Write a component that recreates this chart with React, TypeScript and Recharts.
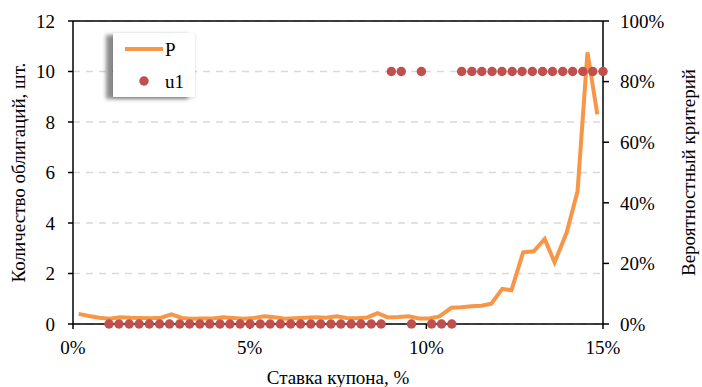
import {
  ComposedChart,
  Line,
  Scatter,
  XAxis,
  YAxis,
  CartesianGrid,
  ReferenceLine,
} from "recharts";

document.body.style.margin = "0";

const FONT = "'Liberation Serif', 'Times New Roman', 'DejaVu Serif', serif";
const ORANGE = "#F79646";
const RED = "#C0504D";

// coupon rate (%) for line P
const lineX = [
  0.16, 0.45, 0.74, 1.04, 1.33, 1.62, 1.91, 2.2, 2.49, 2.79, 3.08, 3.37, 3.66,
  3.95, 4.25, 4.54, 4.83, 5.12, 5.41, 5.71, 6.0, 6.29, 6.58, 6.87, 7.16, 7.46,
  7.75, 8.04, 8.33, 8.62, 8.91, 9.21, 9.5, 9.79, 10.08, 10.37, 10.71, 10.99,
  11.28, 11.56, 11.84, 12.15, 12.41, 12.74, 13.04, 13.35, 13.63, 13.97, 14.28,
  14.56, 14.84,
];
// number of bonds
const lineP = [
  0.4, 0.32, 0.25, 0.21, 0.27, 0.25, 0.24, 0.23, 0.25, 0.38, 0.24, 0.21, 0.22,
  0.22, 0.27, 0.24, 0.21, 0.24, 0.31, 0.27, 0.21, 0.23, 0.25, 0.27, 0.25, 0.31,
  0.24, 0.23, 0.26, 0.43, 0.26, 0.28, 0.31, 0.22, 0.22, 0.3, 0.64, 0.66, 0.7,
  0.72, 0.8, 1.39, 1.34, 2.84, 2.88, 3.37, 2.44, 3.61, 5.26, 10.76, 8.3,
];

// coupon rate (%) for u1 points
const dotX = [
  1.02, 1.3, 1.59, 1.87, 2.16, 2.45, 2.73, 3.02, 3.3, 3.59, 3.87, 4.16, 4.44,
  4.73, 5.01, 5.3, 5.58, 5.87, 6.16, 6.44, 6.73, 7.01, 7.3, 7.58, 7.87, 8.15,
  8.44, 8.72, 9.01, 9.29, 9.58, 9.86, 10.15, 10.43, 10.72, 11.0, 11.29, 11.57,
  11.86, 12.14, 12.43, 12.71, 13.0, 13.29, 13.57, 13.86, 14.14, 14.43, 14.71,
  15.0,
];
// probability criterion
const dotU = [
  0, 0, 0, 0, 0, 0, 0, 0, 0, 0, 0, 0, 0, 0, 0, 0, 0, 0, 0, 0, 0, 0, 0, 0, 0, 0,
  0, 0, 0.8333, 0.8333, 0, 0.8333, 0, 0, 0, 0.8333, 0.8333, 0.8333, 0.8333,
  0.8333, 0.8333, 0.8333, 0.8333, 0.8333, 0.8333, 0.8333, 0.8333, 0.8333,
  0.8333, 0.8333,
];

const xTicks = [0, 5, 10, 15];
const leftTicks = [0, 2, 4, 6, 8, 10, 12];
const rightTicks = [0, 0.2, 0.4, 0.6, 0.8, 1];

const lineData = lineX.map((x, i) => ({ x, p: lineP[i] }));
const dotData = dotX.map((x, i) => ({ x, u: dotU[i] }));

const tickStyle = { fill: "#000", fontSize: 19, fontFamily: FONT };

const LegendBox = () => (
  <div
    style={{
      position: "absolute",
      left: 113,
      top: 33,
      width: 82,
      height: 64,
      background: "#fff",
      boxShadow: "-7px 2px 4px rgba(0,0,0,0.45), 0 1px 3px rgba(0,0,0,0.15)",
    }}
  >
    <svg width={82} height={64} style={{ display: "block" }}>
      <line x1={12} y1={16} x2={50} y2={16} stroke={ORANGE} strokeWidth={4} />
      <text x={52} y={23} fontSize={19} fontFamily={FONT} fill="#000">
        P
      </text>
      <circle cx={31} cy={48} r={4.75} fill={RED} />
      <text x={52} y={55} fontSize={19} fontFamily={FONT} fill="#000">
        u1
      </text>
    </svg>
  </div>
);

export default function App() {
  return (
    <div style={{ position: "relative", width: 702, height: 387, fontFamily: FONT }}>
      <ComposedChart
        width={702}
        height={387}
        margin={{ top: 21, right: 0, bottom: 0, left: 0 }}
        style={{ fontFamily: FONT }}
      >
        <CartesianGrid
          yAxisId="left"
          vertical={false}
          stroke="#D9D9D9"
          strokeWidth={1.5}
          strokeDasharray="7 6"
        />
        <XAxis
          dataKey="x"
          type="number"
          domain={[0, 15]}
          ticks={xTicks}
          tickFormatter={(v) => `${v}%`}
          height={63}
          stroke="#000"
          strokeWidth={1.5}
          tickSize={5}
          tickMargin={12}
          tick={tickStyle}
          label={{
            value: "Ставка купона, %",
            position: "insideBottom",
            offset: 3,
            fill: "#000",
            fontSize: 19,
            fontFamily: FONT,
          }}
        />
        <YAxis
          yAxisId="left"
          domain={[0, 12]}
          ticks={leftTicks}
          width={73}
          stroke="#000"
          strokeWidth={1.5}
          tickSize={5}
          tickMargin={13}
          tick={tickStyle}
          label={{
            value: "Количество облигаций, шт.",
            angle: -90,
            position: "insideLeft",
            offset: 18,
            fill: "#000",
            fontSize: 19,
            fontFamily: FONT,
            style: { textAnchor: "middle" },
          }}
        />
        <YAxis
          yAxisId="right"
          orientation="right"
          domain={[0, 1]}
          ticks={rightTicks}
          tickFormatter={(v) => `${Math.round(v * 100)}%`}
          width={99}
          stroke="#000"
          strokeWidth={1.5}
          tickSize={6}
          tickMargin={11}
          tick={tickStyle}
          label={{
            value: "Вероятностный критерий",
            angle: -90,
            position: "insideRight",
            offset: 14,
            fill: "#000",
            fontSize: 19,
            fontFamily: FONT,
            style: { textAnchor: "middle" },
          }}
        />
        <ReferenceLine yAxisId="left" y={12} stroke="#000" strokeWidth={1.5} />
        <Scatter
          yAxisId="right"
          name="u1"
          data={dotData}
          dataKey="u"
          fill={RED}
          isAnimationActive={false}
          shape={(props: any) => (
            <circle cx={props.cx} cy={props.cy} r={4.75} fill={RED} />
          )}
        />
        <Line
          yAxisId="left"
          name="P"
          data={lineData}
          dataKey="p"
          type="linear"
          stroke={ORANGE}
          strokeWidth={4}
          dot={false}
          activeDot={false}
          isAnimationActive={false}
        />
      </ComposedChart>
      <LegendBox />
    </div>
  );
}
